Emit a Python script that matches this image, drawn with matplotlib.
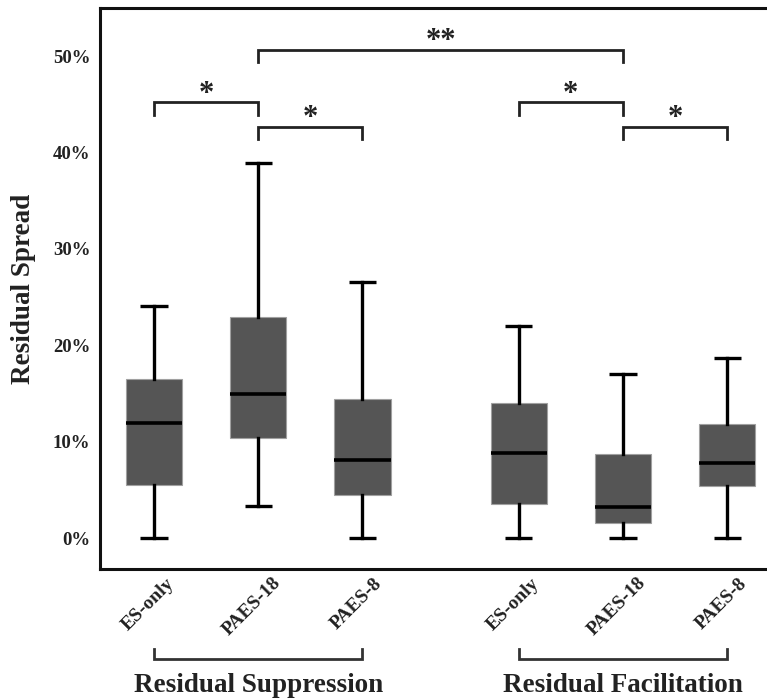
import matplotlib
matplotlib.use("Agg")
import matplotlib.pyplot as plt
import matplotlib.transforms as mtransforms

plt.rcParams['font.family'] = ['Liberation Serif', 'DejaVu Serif']
plt.rcParams['font.weight'] = 'bold'

# ---- data (percent) ----
categories = ["ES-only", "PAES-18", "PAES-8", "ES-only", "PAES-18", "PAES-8"]
groups = ["Residual Suppression", "Residual Facilitation"]
whis_lo = [0.0, 3.3, 0.0, 0.0, 0.0, 0.0]
q1 = [5.5, 10.4, 4.5, 3.5, 1.55, 5.4]
median = [11.9, 15.0, 8.1, 8.85, 3.2, 7.75]
q3 = [16.5, 22.9, 14.4, 14.0, 8.7, 11.85]
whis_hi = [24.1, 38.9, 26.6, 22.0, 17.0, 18.7]
yticks = [0, 10, 20, 30, 40, 50]
ytick_labels = ["0%", "10%", "20%", "30%", "40%", "50%"]
positions = [1, 2, 3, 4.5, 5.5, 6.5]
# significance brackets: (index a, index b, level, stars)
sig_pairs = [(0, 1, 45.2, "*"), (1, 2, 42.7, "*"), (1, 4, 50.65, "**"),
             (3, 4, 45.2, "*"), (4, 5, 42.7, "*")]

W, H = 767, 698
fig = plt.figure(figsize=(W / 100, H / 100), dpi=100)
ax = fig.add_axes([100 / W, (H - 569) / H, 672 / W, (569 - 8) / H])

stats = []
for i in range(len(categories)):
    stats.append(dict(med=median[i], q1=q1[i], q3=q3[i],
                      whislo=whis_lo[i], whishi=whis_hi[i], label=categories[i]))

ax.bxp(stats, positions=positions, widths=0.54, capwidths=0.26,
       patch_artist=True, showfliers=False,
       boxprops=dict(facecolor='#555555', edgecolor='#a0a0a0', linewidth=0.8),
       medianprops=dict(color='black', linewidth=2.6, solid_capstyle='butt'),
       whiskerprops=dict(color='black', linewidth=2.4),
       capprops=dict(color='black', linewidth=2.4, solid_capstyle='butt'))

ax.set_xlim(0.482, 6.93)
ax.set_ylim(-3.2, 55.0)
ax.set_yticks(yticks)
ax.set_yticklabels(ytick_labels, fontsize=13.5, fontweight='bold', color='#222222')
ax.tick_params(axis='both', length=0)
ax.tick_params(axis='y', pad=7)
ax.set_xticks(positions)
ax.set_xticklabels(categories, rotation=45, ha='center', fontsize=14,
                   fontweight='bold', color='#222222')
ax.tick_params(axis='x', pad=4)
offset = mtransforms.ScaledTranslation(-6 / 100, 0, fig.dpi_scale_trans)
for lab in ax.get_xticklabels():
    lab.set_transform(lab.get_transform() + offset)

for s in ['left', 'bottom', 'top']:
    ax.spines[s].set_linewidth(2.2)
    ax.spines[s].set_color('#111111')
ax.spines['right'].set_visible(False)

ax.set_ylabel("Residual Spread", fontsize=19.5, fontweight='bold', color='#222222')
ax.yaxis.set_label_coords(-0.095, 0.5)

# significance brackets
drop = 1.25
for a, b, lvl, star in sig_pairs:
    xa, xb = positions[a], positions[b]
    ax.plot([xa, xa, xb, xb], [lvl - drop, lvl, lvl, lvl - drop],
            color='#222222', lw=2.0, solid_joinstyle='miter', clip_on=False)
    ax.text((xa + xb) / 2, lvl + 0.85, star, ha='center', va='center',
            fontsize=22, fontweight='bold', color='#222222')

# group brackets under the axis
for gi, (a, b) in enumerate([(0, 2), (3, 5)]):
    xa, xb = positions[a], positions[b]
    ax.plot([xa, xa, xb, xb], [-11.5, -12.55, -12.55, -11.5], color='#333333',
            lw=2.0, solid_joinstyle='miter', clip_on=False)
    ax.text((xa + xb) / 2, -15.3, groups[gi], ha='center', va='center',
            fontsize=19.5, fontweight='bold', color='#222222')

fig.savefig("out.png", dpi=100)
